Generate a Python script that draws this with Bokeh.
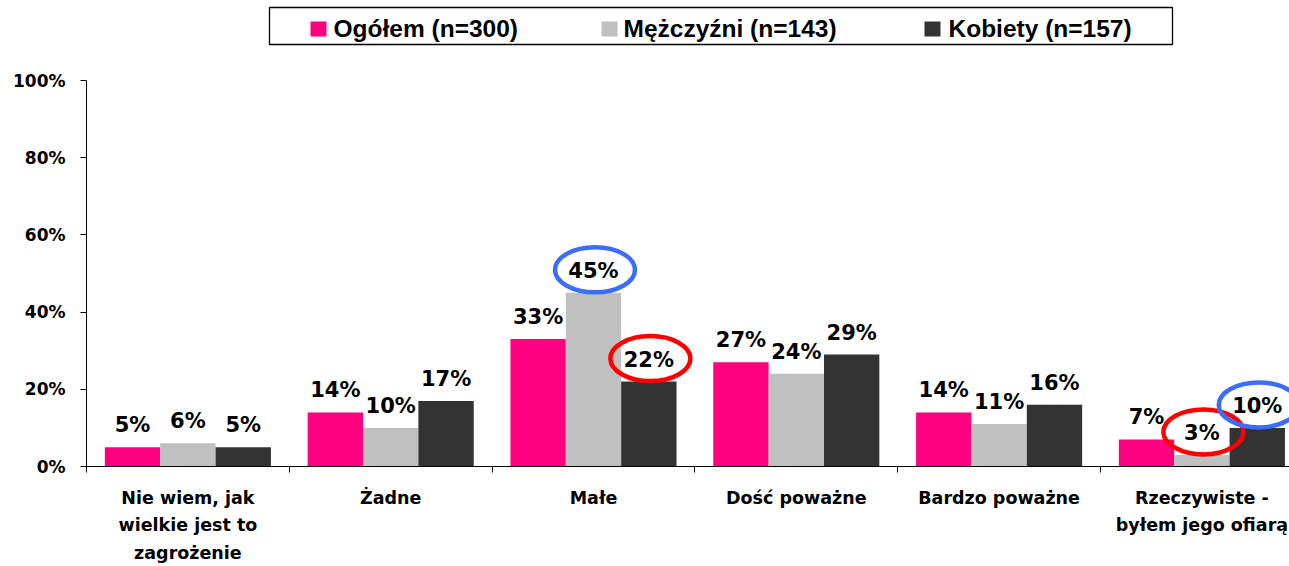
from bokeh.plotting import figure
from bokeh.models import Range1d, FixedTicker, ColumnDataSource
from bokeh.layouts import column
from bokeh.embed import file_html
from bokeh.resources import INLINE
from bokeh.core.properties import value

# ---------------- data ----------------
categories = [
    "Nie wiem, jak\nwielkie jest to\nzagrożenie",
    "Żadne",
    "Małe",
    "Dość poważne",
    "Bardzo poważne",
    "Rzeczywiste -\nbyłem jego ofiarą",
]
series_names = ["Ogółem (n=300)", "Mężczyźni (n=143)", "Kobiety (n=157)"]
series_colors = ["#FF0080", "#C0C0C0", "#333333"]
ogolem = [5, 14, 33, 27, 14, 7]
mezczyzni = [6, 10, 45, 24, 11, 3]
kobiety = [5, 17, 22, 29, 16, 10]
y_ticks = [0, 20, 40, 60, 80, 100]
# highlighted labels: (category index, series index, ring colour)
highlights = [(2, 1, "#3B6EF5"), (2, 2, "#FF0000"), (5, 1, "#FF0000"), (5, 2, "#3B6EF5")]

series_values = [ogolem, mezczyzni, kobiety]

# ---------------- layout constants ----------------
W = 1289
LEG_H = 52
MAIN_H = 514
FRAME_LEFT = 86
FRAME_TOP = 28
FRAME_H = 386
FRAME_W = W - FRAME_LEFT
CAT_PX = 202.8
BAR_W = 0.273
PX = 100.0 / FRAME_H  # data units per pixel (y)
TXT_FIX = 8           # renderer places alphabetic baseline this much lower

BOLD = dict(text_font=value("DejaVu Sans"), text_font_style="bold")

# ---------------- main chart ----------------
p = figure(width=W, height=MAIN_H, output_backend="svg", toolbar_location=None,
           x_range=Range1d(0, FRAME_W / CAT_PX), y_range=Range1d(0, 100),
           min_border_left=FRAME_LEFT, min_border_right=0,
           min_border_top=FRAME_TOP, min_border_bottom=MAIN_H - FRAME_TOP - FRAME_H)
p.outline_line_color = None
p.grid.visible = False
p.background_fill_color = "white"

n = len(categories)
for j, (vals, col) in enumerate(zip(series_values, series_colors)):
    xs = [i + 0.5 + (j - 1) * BAR_W for i in range(n)]
    src = ColumnDataSource(dict(x=xs, top=vals, lab=[f"{v}%" for v in vals]))
    p.vbar(x="x", top="top", width=BAR_W, source=src, fill_color=col, line_color=None)
    p.text(x="x", y="top", text="lab", source=src, text_align="center",
           text_baseline="alphabetic", y_offset=-(14 + TXT_FIX), text_font_size="21px",
           text_color="black", **BOLD)

ex, ey, ec = [], [], []
for ci, si, c in highlights:
    ex.append(ci + 0.5 + (si - 1) * BAR_W + 1.5 / CAT_PX)
    ey.append(series_values[si][ci] + 23 * PX)
    ec.append(c)
p.ellipse(x=ex, y=ey, width=80, height=45, width_units="screen", height_units="screen",
          fill_color=None, line_color=ec, line_width=4.5)

# y axis
ya = p.yaxis[0]
ya.ticker = FixedTicker(ticks=y_ticks, minor_ticks=[])
ya.major_label_overrides = {t: f"{t}%" for t in y_ticks}
ya.major_tick_out = 6
ya.major_tick_in = 0
ya.minor_tick_line_color = None
ya.axis_line_color = "black"
ya.major_tick_line_color = "black"
ya.major_label_text_color = "black"
ya.major_label_text_font = "DejaVu Sans"
ya.major_label_text_font_style = "bold"
ya.major_label_text_font_size = "17px"
ya.major_label_standoff = 15

# x axis
xa = p.xaxis[0]
xa.ticker = FixedTicker(ticks=[i + 0.5 for i in range(n)], minor_ticks=list(range(n + 1)))
xa.major_label_overrides = {i + 0.5: categories[i] for i in range(n)}
xa.major_tick_out = 0
xa.major_tick_in = 0
xa.major_tick_line_color = None
xa.minor_tick_out = 6
xa.minor_tick_in = 0
xa.minor_tick_line_color = "black"
xa.axis_line_color = "black"
xa.major_label_text_color = "black"
xa.major_label_text_font = "DejaVu Sans"
xa.major_label_text_font_style = "bold"
xa.major_label_text_font_size = "17.5px"
xa.major_label_text_line_height = 1.38
xa.major_label_standoff = 15
xa.major_label_orientation = "horizontal"

# ---------------- legend (separate strip, x in page pixels) ----------------
leg = figure(width=W, height=LEG_H, output_backend="svg", toolbar_location=None,
             x_range=Range1d(FRAME_LEFT, W), y_range=Range1d(LEG_H, 0),
             x_axis_type=None, y_axis_type=None, min_border=0,
             min_border_left=FRAME_LEFT, min_border_right=0)
leg.outline_line_color = None
leg.grid.visible = False
leg_box = dict(left=269, right=1172, top=7, bottom=44)
leg.quad(fill_color="white", line_color="black", line_width=1.3, **leg_box)
sq_x = [310, 601, 924]
txt_x = [333, 623, 948]
leg.quad(left=sq_x, right=[x + 16 for x in sq_x], top=[21] * 3, bottom=[36] * 3,
         fill_color=series_colors, line_color=None)
leg.text(x=txt_x, y=[36 - TXT_FIX] * 3, text=series_names, text_baseline="alphabetic",
         text_align="left", text_font=value("Liberation Sans"), text_font_style="bold",
         text_font_size="24.5px", text_color="black")

layout = column(leg, p)
open("out.html", "w").write(file_html(layout, INLINE))
